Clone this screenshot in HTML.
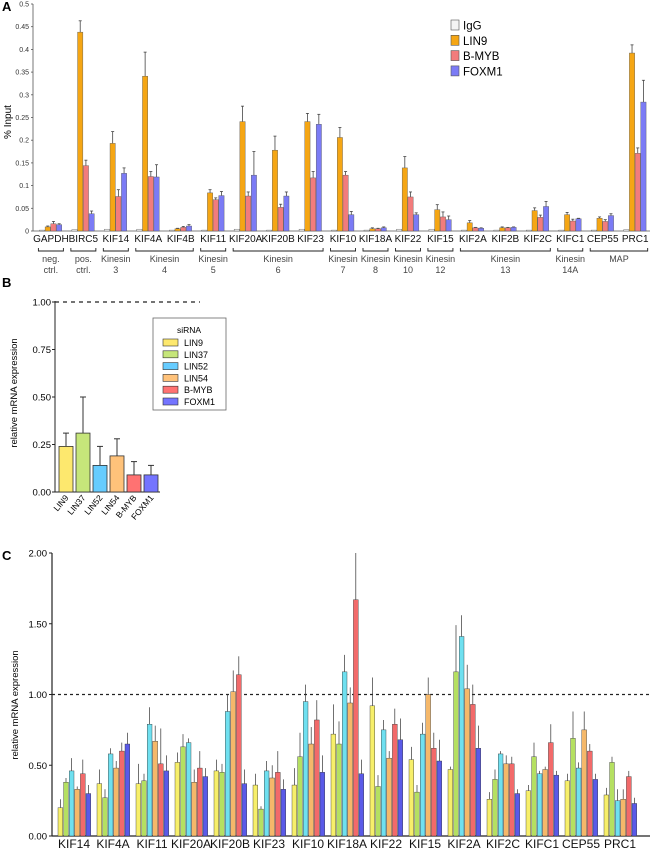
<!DOCTYPE html>
<html><head><meta charset="utf-8"><style>
body{margin:0;background:#fff;}
svg{display:block;font-family:"Liberation Sans",sans-serif;}
</style></head><body>
<svg id="fig" width="650" height="849" viewBox="0 0 650 849">
<text x="2" y="11" font-size="13" font-weight="bold">A</text>
<text x="2" y="287" font-size="13" font-weight="bold">B</text>
<text x="2" y="560" font-size="13" font-weight="bold">C</text>
<g id="pa"></g>
<g id="pb"></g>
<g id="pc"></g>
</svg>
<script>
// Panel A data
const aCats=["GAPDH","BIRC5","KIF14","KIF4A","KIF4B","KIF11","KIF20A","KIF20B","KIF23","KIF10","KIF18A","KIF22","KIF15","KIF2A","KIF2B","KIF2C","KIFC1","CEP55","PRC1"];
const aSeries=["IgG","LIN9","B-MYB","FOXM1"];
const aIgG=[.002,.003,.004,.004,.002,.002,.004,.002,.004,.002,.002,.004,.004,.002,.002,.002,.002,.002,.003];
const aLIN9=[.009,.438,.193,.341,.005,.084,.241,.178,.241,.206,.005,.139,.047,.018,.007,.045,.036,.028,.392];
const aBMYB=[.016,.144,.076,.12,.008,.069,.077,.052,.117,.123,.005,.075,.031,.007,.007,.030,.022,.021,.171];
const aFOXM1=[.014,.038,.127,.119,.011,.078,.123,.077,.235,.036,.007,.036,.025,.006,.008,.054,.027,.034,.284];
const aErrLIN9=[.002,.025,.026,.053,.001,.007,.034,.031,.018,.022,.002,.025,.011,.005,.002,.006,.005,.003,.018];
const aErrBMYB=[.005,.012,.015,.011,.002,.004,.009,.007,.014,.008,.001,.011,.011,.001,.001,.005,.004,.004,.012];
const aErrFOXM1=[.002,.006,.012,.027,.003,.009,.052,.009,.022,.007,.002,.004,.008,.001,.001,.011,.001,.004,.048];
const aTicks=["0","0.05","0.1","0.15","0.2","0.25","0.3","0.35","0.4","0.45","0.5"];
const aFamilies=[["neg.","ctrl.",0,0],["pos.","ctrl.",1,1],["Kinesin","3",2,2],["Kinesin","4",3,4],["Kinesin","5",5,5],["Kinesin","6",6,8],["Kinesin","7",9,9],["Kinesin","8",10,10],["Kinesin","10",11,11],["Kinesin","12",12,12],["Kinesin","13",13,15],["Kinesin","14A",16,16],["MAP","",17,18]];
// Panel B data
const bCats=["LIN9","LIN37","LIN52","LIN54","B-MYB","FOXM1"];
const bVals=[0.24,0.31,0.14,0.19,0.09,0.09];
const bErr=[0.07,0.19,0.10,0.09,0.07,0.05];
const bTicks=["0.00","0.25","0.50","0.75","1.00"];
// Panel C data
const cCats=["KIF14","KIF4A","KIF11","KIF20A","KIF20B","KIF23","KIF10","KIF18A","KIF22","KIF15","KIF2A","KIF2C","KIFC1","CEP55","PRC1"];
const cLIN9=[.20,.37,.37,.52,.46,.36,.36,.72,.92,.54,.47,.26,.32,.39,.29];
const cLIN37=[.38,.27,.39,.63,.45,.19,.56,.65,.35,.31,1.16,.40,.56,.69,.52];
const cLIN52=[.46,.58,.79,.66,.88,.46,.95,1.16,.75,.72,1.41,.58,.44,.48,.25];
const cLIN54=[.33,.48,.67,.38,1.02,.41,.65,.94,.55,1.00,1.04,.51,.47,.75,.26];
const cBMYB=[.44,.60,.51,.48,1.14,.45,.82,1.67,.79,.62,.93,.51,.66,.60,.42];
const cFOXM1=[.30,.65,.46,.42,.37,.33,.45,.44,.68,.53,.62,.30,.43,.40,.23];
const cErrLIN9=[.06,.10,.14,.07,.08,.08,.12,.21,.20,.09,.02,.05,.04,.05,.05];
const cErrLIN37=[.03,.06,.05,.09,.06,.02,.17,.16,.08,.05,.33,.07,.10,.19,.04];
const cErrLIN52=[.09,.04,.12,.03,.12,.07,.12,.12,.07,.08,.15,.02,.02,.04,.08];
const cErrLIN54=[.02,.05,.11,.09,.15,.09,.12,.11,.05,.12,.17,.06,.02,.13,.07];
const cErrBMYB=[.10,.06,.25,.12,.13,.15,.14,.33,.11,.11,.14,.05,.13,.05,.04];
const cErrFOXM1=[.06,.08,.11,.06,.10,.07,.12,.10,.15,.15,.16,.03,.03,.04,.04];
const cTicks=["0.00","0.50","1.00","1.50","2.00"];

const NS="http://www.w3.org/2000/svg";
function mk(parent,tag,attrs,txt){const e=document.createElementNS(NS,tag);for(const k in attrs)e.setAttribute(k,attrs[k]);if(txt!==undefined)e.textContent=txt;parent.appendChild(e);return e;}

// ---- Panel A ----
(function(){
const g=document.getElementById('pa');
const y0=231,sc=454,xAx=33;
const ya=v=>y0-v*sc;
const xg=i=>39.4+i*32.46;
const bw=5.3,bs=5.7;
mk(g,'line',{x1:xAx,y1:4,x2:xAx,y2:y0,stroke:'#555','stroke-width':0.8});
mk(g,'line',{x1:xAx,y1:y0,x2:650,y2:y0,stroke:'#555','stroke-width':0.8});
aTicks.forEach((t,i)=>{const v=i*0.05,y=ya(v);
 const l=mk(g,'line',{x1:xAx-2,y1:y,x2:xAx,y2:y,stroke:'#555','stroke-width':0.8});
 
 const tx=mk(g,'text',{x:xAx-4,y:y+2.5,'font-size':7,'text-anchor':'end',fill:'#333'},t);
 });
const yt=mk(g,'text',{x:0,y:0,'font-size':10,transform:'translate(11,122) rotate(-90)','text-anchor':'middle'},'% Input');

const ser=[aIgG,aLIN9,aBMYB,aFOXM1],err=[null,aErrLIN9,aErrBMYB,aErrFOXM1];
const cols=['#f4f4f4','#f5a614','#f27c7c','#7b7bf5'];
aCats.forEach((c,i)=>{
 ser.forEach((s,k)=>{const x=xg(i)+k*bs,v=s[i];
  if(err[k]){const ye=ya(v+err[k][i]);
   const e=mk(g,'line',{x1:x+bw/2,y1:ye,x2:x+bw/2,y2:ya(v),stroke:'#444','stroke-width':0.8});
   
   mk(g,'line',{x1:x+bw/2-1.5,y1:ye,x2:x+bw/2+1.5,y2:ye,stroke:'#444','stroke-width':0.8});}
  const r=mk(g,'rect',{x:x,y:ya(v),width:bw,height:Math.max(v*sc,0.6),fill:cols[k],stroke:'#555','stroke-width':0.4});
  
 });
 const t=mk(g,'text',{x:xg(i)+11.5,y:242,'font-size':10,'text-anchor':'middle',fill:'#111'},c);
 
});
aFamilies.forEach(f=>{const x1=xg(f[2])-1,x2=xg(f[3])+24;
 const p=mk(g,'path',{d:`M${x1},248 V251 H${x2} V248`,fill:'none',stroke:'#222','stroke-width':0.9});
 
 const cx=(x1+x2)/2;
 const t1=mk(g,'text',{x:cx,y:262,'font-size':9,'text-anchor':'middle',fill:'#444'},f[0]);
 
 if(f[1]){const t2=mk(g,'text',{x:cx,y:273,'font-size':9,'text-anchor':'middle',fill:'#444'},f[1]);
 }
});
aSeries.forEach((s,k)=>{const y=20+k*15.3;
 const r=mk(g,'rect',{x:451,y:y,width:8,height:10,fill:cols[k],stroke:'#555','stroke-width':0.6});
 
 const t=mk(g,'text',{x:463,y:y+9.5,'font-size':11.5},s);
 });
})();

// ---- Panel B ----
(function(){
const g=document.getElementById('pb');
const y0=492,sc=190,xAx=55;
const yb=v=>y0-v*sc;
mk(g,'line',{x1:xAx,y1:301,x2:xAx,y2:y0,stroke:'#222','stroke-width':1});
mk(g,'line',{x1:xAx,y1:y0,x2:160,y2:y0,stroke:'#222','stroke-width':1});
bTicks.forEach((t,i)=>{const y=yb(i*0.25);
 mk(g,'line',{x1:xAx-3,y1:y,x2:xAx,y2:y,stroke:'#222'});
 const tx=mk(g,'text',{x:xAx-4,y:y+3.5,'font-size':9.5,'text-anchor':'end'},t);
 });
const d=mk(g,'line',{x1:xAx,y1:yb(1),x2:200,y2:yb(1),stroke:'#222','stroke-width':1.2,'stroke-dasharray':'4,4'});

const yt=mk(g,'text',{x:0,y:0,'font-size':9.5,transform:'translate(17,393) rotate(-90)','text-anchor':'middle'},'relative mRNA expression');

const cols=['#fde86e','#c6e67a','#66ccff','#ffc27a','#ff7272','#7474ff'];
bCats.forEach((c,i)=>{const x=59+i*17,w=14,v=bVals[i],ye=yb(v+bErr[i]);
 mk(g,'line',{x1:x+w/2,y1:ye,x2:x+w/2,y2:yb(v),stroke:'#333','stroke-width':1});
 mk(g,'line',{x1:x+w/2-3,y1:ye,x2:x+w/2+3,y2:ye,stroke:'#333','stroke-width':1});
 const r=mk(g,'rect',{x:x,y:yb(v),width:w,height:v*sc,fill:cols[i],stroke:'#333','stroke-width':0.8});
 
 const t=mk(g,'text',{x:0,y:0,'font-size':8.5,'text-anchor':'end',transform:`translate(${x+w/2+3},${y0+6}) rotate(-50)`},c);
 });
const lb=mk(g,'rect',{x:153,y:318,width:73,height:92,fill:'#fff',stroke:'#666','stroke-width':0.8});

mk(g,'text',{x:189,y:333,'font-size':8.5,'text-anchor':'middle'},'siRNA');
bCats.forEach((c,i)=>{const y=339+i*11.8;
 const r=mk(g,'rect',{x:163,y:y,width:15,height:7,fill:cols[i],stroke:'#333','stroke-width':0.6});
 
 const t=mk(g,'text',{x:184,y:y+7,'font-size':9},c);
 });
})();

// ---- Panel C ----
(function(){
const g=document.getElementById('pc');
const y0=836,sc=141.5,xAx=52;
const yc=v=>y0-v*sc;
const xg=i=>58+i*39;
const bw=4.8,bs=5.6;
mk(g,'line',{x1:xAx,y1:yc(2),x2:xAx,y2:y0,stroke:'#222','stroke-width':1.2});
mk(g,'line',{x1:xAx,y1:y0,x2:650,y2:y0,stroke:'#222','stroke-width':1.2});
cTicks.forEach((t,i)=>{const y=yc(i*0.5);
 mk(g,'line',{x1:xAx-3,y1:y,x2:xAx,y2:y,stroke:'#222'});
 const tx=mk(g,'text',{x:xAx-5,y:y+3.5,'font-size':9.5,'text-anchor':'end'},t);
 });
const d=mk(g,'line',{x1:xAx,y1:yc(1),x2:650,y2:yc(1),stroke:'#222','stroke-width':1.2,'stroke-dasharray':'3,3'});

const yt=mk(g,'text',{x:0,y:0,'font-size':9.5,transform:'translate(18,705) rotate(-90)','text-anchor':'middle'},'relative mRNA expression');

const ser=[cLIN9,cLIN37,cLIN52,cLIN54,cBMYB,cFOXM1],err=[cErrLIN9,cErrLIN37,cErrLIN52,cErrLIN54,cErrBMYB,cErrFOXM1];
const cols=['#f7ef6a','#b5e061','#6fe0f0','#f5b86a','#f26a6a','#5a5ae8'];
const sn=["lin9","lin37","lin52","lin54","b-myb","foxm1"];
cCats.forEach((c,i)=>{
 ser.forEach((s,k)=>{const x=xg(i)+k*bs,v=s[i],ye=yc(v+err[k][i]);
  const e=mk(g,'line',{x1:x+bw/2,y1:ye,x2:x+bw/2,y2:yc(v),stroke:'#333','stroke-width':0.7});
  
  const r=mk(g,'rect',{x:x,y:yc(v),width:bw,height:v*sc,fill:cols[k],stroke:'#333','stroke-width':0.4});
  
 });
 const t=mk(g,'text',{x:xg(i)+16,y:848,'font-size':12,'text-anchor':'middle',fill:'#111'},c);
 
});
})();
</script>
</body></html>
